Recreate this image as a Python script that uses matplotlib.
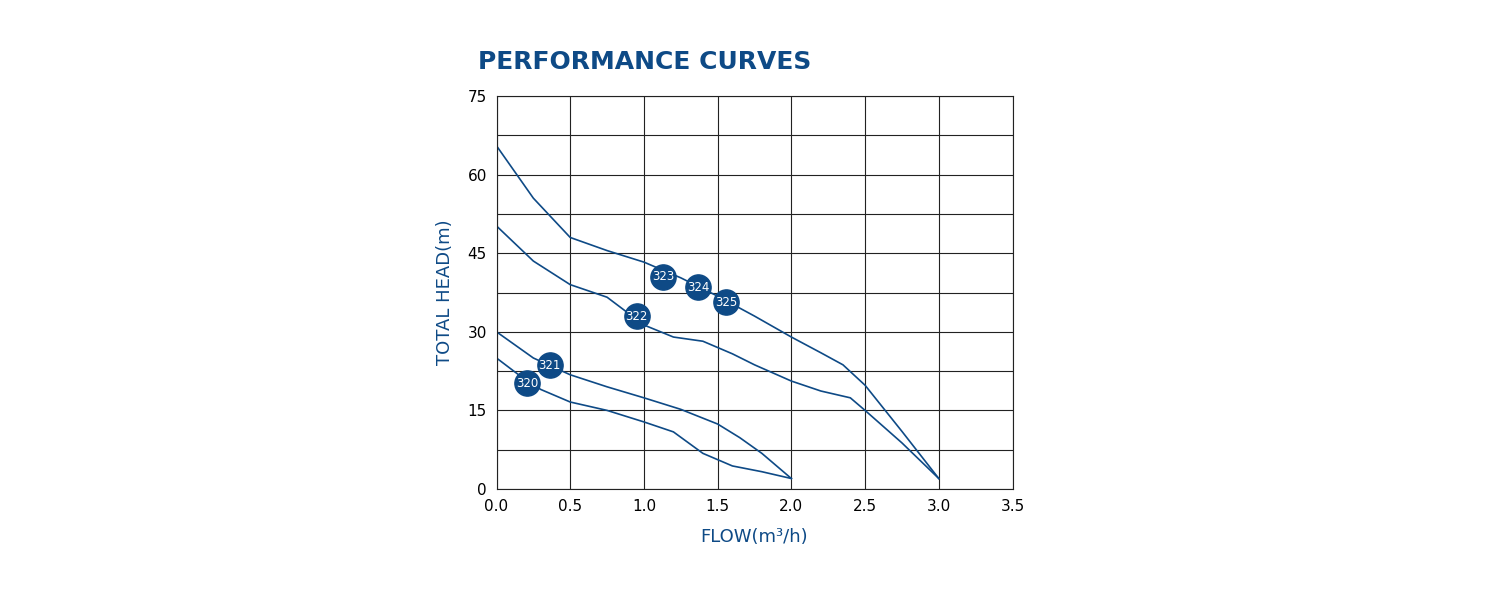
import matplotlib.pyplot as plt

# curves (flow m3/h, head m)
flow_a = [0.0, 0.25, 0.5, 0.75, 1.0, 1.25, 1.5, 1.75, 2.0, 2.2, 2.35, 2.5, 2.75, 3.0]
head_a = [65.5, 55.5, 48.0, 45.5, 43.3, 40.3, 36.8, 33.0, 29.0, 26.0, 23.7, 19.8, 11.0, 2.0]
flow_b = [0.0, 0.25, 0.5, 0.75, 1.0, 1.2, 1.4, 1.6, 1.75, 2.0, 2.2, 2.4, 2.5, 2.75, 3.0]
head_b = [50.2, 43.5, 39.0, 36.6, 31.3, 29.0, 28.2, 25.8, 23.7, 20.6, 18.7, 17.4, 15.0, 8.8, 2.0]
flow_c = [0.0, 0.25, 0.5, 0.75, 1.0, 1.25, 1.5, 1.65, 1.8, 2.0]
head_c = [30.0, 25.0, 21.8, 19.5, 17.4, 15.2, 12.4, 9.8, 6.8, 2.0]
flow_d = [0.0, 0.15, 0.3, 0.5, 0.75, 1.0, 1.2, 1.4, 1.6, 1.8, 2.0]
head_d = [25.0, 21.8, 19.0, 16.6, 15.0, 12.8, 10.9, 6.8, 4.4, 3.3, 2.0]

models = ['320', '321', '322', '323', '324', '325']
model_x = [0.21, 0.36, 0.95, 1.13, 1.37, 1.56]
model_y = [20.2, 23.6, 33.0, 40.5, 38.5, 35.6]

blue = '#0e4a86'
fig = plt.figure(figsize=(15, 6), dpi=100)
ax = fig.add_axes([0.331, 0.185, 0.344, 0.655])
for fx, hy in [(flow_a, head_a), (flow_b, head_b), (flow_c, head_c), (flow_d, head_d)]:
    ax.plot(fx, hy, color=blue, lw=1.2)
ax.scatter(model_x, model_y, s=330, color=blue, zorder=3)
for m, x, y in zip(models, model_x, model_y):
    ax.text(x, y, m, color='white', fontsize=8.5, ha='center', va='center', zorder=4)

ax.set_xlim(0, 3.5)
ax.set_ylim(0, 75)
ax.set_xticks([0, 0.5, 1.0, 1.5, 2.0, 2.5, 3.0, 3.5])
ax.set_xticklabels(['0.0', '0.5', '1.0', '1.5', '2.0', '2.5', '3.0', '3.5'])
ax.set_yticks([0, 15, 30, 45, 60, 75])
ax.set_yticks([7.5, 22.5, 37.5, 52.5, 67.5], minor=True)
ax.grid(True, which='both', color='#222222', lw=0.8)
ax.tick_params(labelsize=11, which='both', direction='in', length=0, pad=7)
for s in ax.spines.values():
    s.set_color('#222222')
ax.set_xlabel('FLOW(m³/h)', color=blue, fontsize=13, labelpad=10)
ax.set_ylabel('TOTAL HEAD(m)', color=blue, fontsize=13, labelpad=10)
fig.text(0.319, 0.885, 'PERFORMANCE CURVES', color=blue, fontsize=18,
         fontweight='bold', family='Liberation Sans Narrow')
fig.savefig('out.png')
